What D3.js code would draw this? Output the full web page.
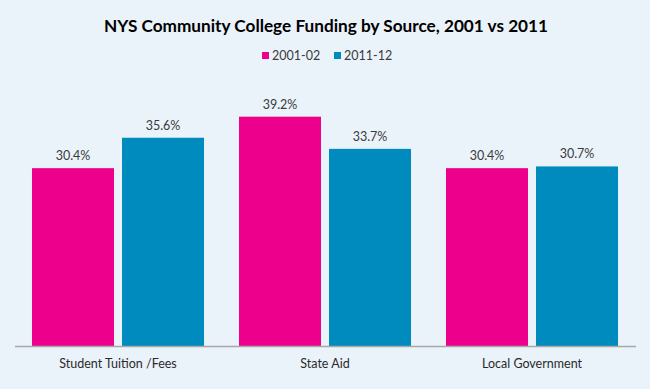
<!DOCTYPE html>
<html><head><meta charset="utf-8">
<script src="https://cdn.jsdelivr.net/npm/d3@7"></script>
<style>
html,body{margin:0;padding:0;background:#eaf2fa;}
text{font-family:"Lato","Open Sans",sans-serif;}
</style></head>
<body>
<svg id="chart" width="650" height="389"></svg>
<script>
const categories = ["Student Tuition /Fees", "State Aid", "Local Government"];
const seriesNames = ["2001-02", "2011-12"];
const values2001 = [30.4, 39.2, 30.4];
const values2011 = [35.6, 33.7, 30.7];
const colors = ["#ec008c", "#008bbf"];

const svg = d3.select("#chart");
svg.append("rect").attr("width",650).attr("height",389).attr("fill","#eaf2fa");

const x0 = d3.scaleBand().domain(categories).range([14.5, 635.5]).paddingInner(0.169).paddingOuter(0.0845);
const x1 = d3.scaleBand().domain(seriesNames).range([0, x0.bandwidth()]).paddingInner(0.089).paddingOuter(0);
const y = d3.scaleLinear().domain([0, 40]).range([346, 112]);
const color = d3.scaleOrdinal().domain(seriesNames).range(colors);

const data = categories.map((c,i)=>({cat:c, vals:[{s:seriesNames[0],v:values2001[i]},{s:seriesNames[1],v:values2011[i]}]}));

const g = svg.append("g");
const groups = g.selectAll("g.grp").data(data).join("g").attr("class","grp")
  .attr("transform", d=>`translate(${x0(d.cat)},0)`);
groups.selectAll("rect").data(d=>d.vals).join("rect")
  .attr("x", d=>x1(d.s)).attr("width", x1.bandwidth())
  .attr("y", d=>y(d.v)).attr("height", d=>y(0)-y(d.v))
  .attr("fill", d=>color(d.s));
groups.selectAll("text.val").data(d=>d.vals).join("text").attr("class","val")
  .attr("x", d=>x1(d.s)+x1.bandwidth()/2).attr("y", d=>y(d.v)-8)
  .attr("text-anchor","middle").attr("font-size",12.5).attr("fill","#3a3a3a")
  .text(d=>d.v.toFixed(1)+"%");

// axis
const xAxis = d3.axisBottom(x0).tickSize(0).tickPadding(13);
const ax = svg.append("g").attr("transform","translate(0,346)").call(xAxis);
ax.select(".domain").attr("stroke","#a8a8a8").attr("stroke-width",1.5);
ax.selectAll("text").attr("font-size",12.5).attr("fill","#2a2a2a")
  .style("font-family",'"Lato","Open Sans",sans-serif');

// title
svg.append("text").attr("x",326).attr("y",32).attr("text-anchor","middle")
  .attr("font-size",17.2).attr("font-weight","bold").attr("fill","#000")
  .text("NYS Community College Funding by Source, 2001 vs 2011");

// legend
const legendX = [262, 334];
const lg = svg.append("g").selectAll("g").data(seriesNames).join("g")
  .attr("transform",(d,i)=>`translate(${legendX[i]},52)`);
lg.append("rect").attr("width",7).attr("height",7).attr("y",0).attr("fill",d=>color(d));
lg.append("text").attr("x",10).attr("y",8).attr("font-size",12.5).attr("fill","#3a3a3a").text(d=>d);
</script>
</body></html>
